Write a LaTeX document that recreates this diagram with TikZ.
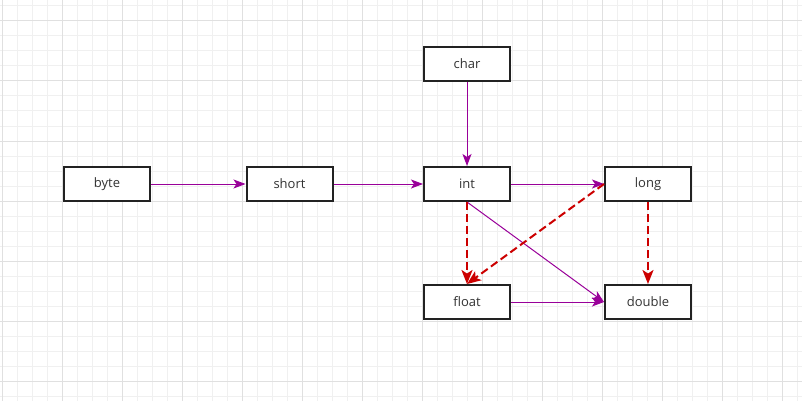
\documentclass[tikz,border=0pt]{standalone}
\usepackage{fontspec}
\setmainfont{Open Sans}
\usetikzlibrary{arrows.meta}
\definecolor{gridminor}{RGB}{240,240,240}
\definecolor{gridmajor}{RGB}{224,224,224}
\definecolor{boxline}{RGB}{34,34,34}
\definecolor{txt}{RGB}{51,51,51}
\definecolor{purp}{RGB}{153,0,153}
\definecolor{redd}{RGB}{204,0,0}
\tikzset{
  typebox/.style={draw=boxline, line width=2pt, fill=white, minimum width=86pt, minimum height=34pt,
    inner sep=0pt, text=txt, font=\fontsize{13}{15}\selectfont},
  widen/.style={draw=purp, line width=1pt, -{Stealth[length=12pt,width=9pt,inset=3pt]}},
  lossy/.style={draw=redd, line width=2pt, dash pattern=on 8pt off 4pt, -{Stealth[length=14pt,width=11pt,inset=3.5pt]}}
}
\begin{document}
\begin{tikzpicture}[x=1pt,y=-1pt]
\useasboundingbox (0,0) rectangle (802,401);
\fill[white] (0,0) rectangle (802,401);
% grid
\foreach \i in {0,...,53} {\draw[gridminor, line width=1pt] ({2+15*\i},0) -- ({2+15*\i},401);}
\foreach \j in {0,...,26} {\draw[gridminor, line width=1pt] (0,{6+15*\j}) -- (802,{6+15*\j});}
\foreach \i in {0,...,13} {\draw[gridmajor, line width=1pt] ({2+60*\i},0) -- ({2+60*\i},401);}
\foreach \j in {0,...,6} {\draw[gridmajor, line width=1pt] (0,{21+60*\j}) -- (802,{21+60*\j});}
% nodes
\node[typebox] (byte) at (107,184) {byte};
\node[typebox] (short) at (289.5,184) {short};
\node[typebox] (int) at (467,184) {int};
\node[typebox] (long) at (648,184) {long};
\node[typebox] (char) at (467,64) {char};
\node[typebox] (float) at (467,302) {float};
\node[typebox] (double) at (648,302) {double};
% connectors
\draw[widen] (byte) -- (short);
\draw[widen] (short) -- (int);
\draw[widen] (char) -- (int);
\draw[widen] (int) -- (long);
\draw[widen] (int.south) -- (double.west);
\draw[widen] (float) -- (double);
\draw[lossy] (int) -- (float);
\draw[lossy] (long.west) -- (float.north);
\draw[lossy] (long) -- (double);
\end{tikzpicture}
\end{document}
